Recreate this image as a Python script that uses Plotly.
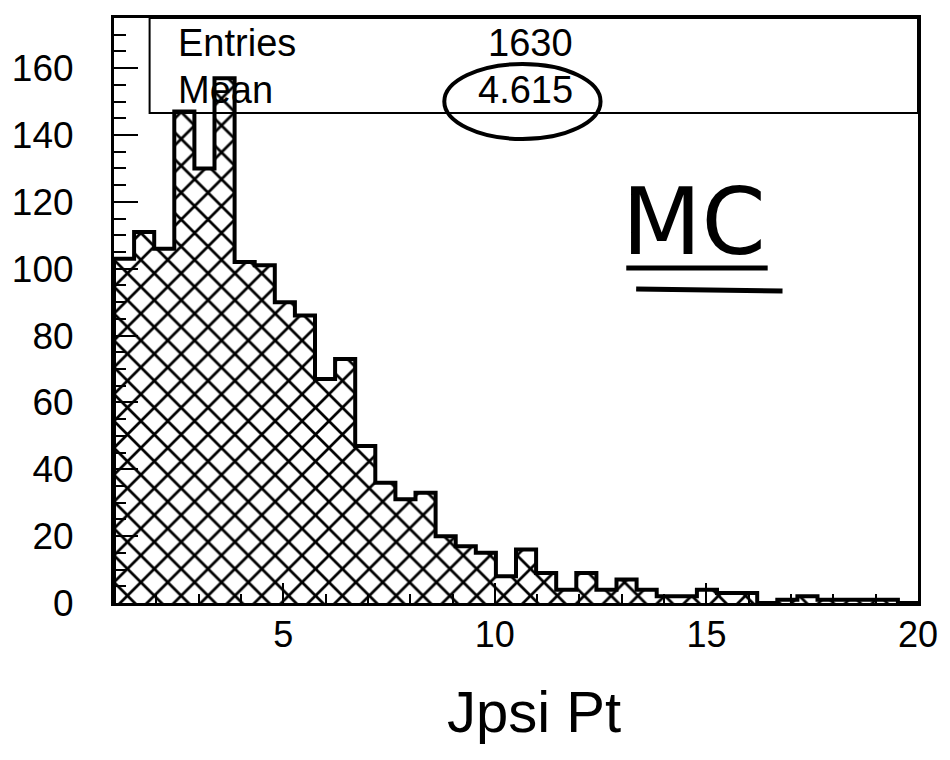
import plotly.graph_objects as go

# Jpsi Pt histogram: 40 bins over [1, 20]
bin_lo = 1.0
bin_hi = 20.0
n_bins = 40
counts = [103, 111, 106, 147, 130, 157, 102, 101, 90, 86,
          67, 73, 47, 36, 31, 33, 20, 17, 15, 8,
          16, 9, 4, 9, 4, 7, 4, 2, 2, 4,
          3, 3, 0, 1, 2, 1, 1, 1, 1, 0]
x_ticks = [5, 10, 15, 20]
y_ticks = [0, 20, 40, 60, 80, 100, 120, 140, 160]
stat_names = ["Entries", "Mean"]
stat_values = ["1630", "4.615"]

bw = (bin_hi - bin_lo) / n_bins
edges = [bin_lo + bw * k for k in range(n_bins + 1)]
centers = [e + bw / 2 for e in edges[:-1]]

# plot-area geometry in pixels, used to place overlays in paper units
W, H = 950, 760
L, R, T, B = 112, 25, 18, 157
pw, ph = W - L - R, H - T - B


def px(xp):
    return (xp - L) / pw


def py(yp):
    return (H - B - yp) / ph


fig = go.Figure()

# cross-hatched fill
fig.add_trace(go.Bar(
    x=centers, y=counts, width=bw,
    marker=dict(color="white", line=dict(width=0),
                pattern=dict(shape="x", fgcolor="black", bgcolor="white",
                             fgopacity=1, size=19, solidity=0.27)),
    showlegend=False, hoverinfo="skip",
))

# thick step outline of the histogram
fig.add_trace(go.Scatter(
    x=[edges[0]] + edges, y=[0] + counts + [counts[-1]],
    mode="lines", line=dict(color="black", width=4, shape="hv"),
    showlegend=False, hoverinfo="skip",
))

font_main = "Liberation Sans, Arial, sans-serif"

fig.update_layout(
    width=W, height=H,
    margin=dict(l=L, r=R, t=T, b=B),
    paper_bgcolor="white", plot_bgcolor="white",
    font=dict(family=font_main, color="black"),
    bargap=0,
    xaxis=dict(
        range=[bin_lo, bin_hi], tickvals=x_ticks, ticktext=[str(v) for v in x_ticks],
        ticks="inside", ticklen=20, tickwidth=2, tickcolor="black",
        minor=dict(dtick=1, ticks="inside", ticklen=9, tickwidth=2, tickcolor="black"),
        showline=True, linewidth=3, linecolor="black", mirror=True,
        showgrid=False, zeroline=False,
        tickfont=dict(size=36, family=font_main), ticklabelstandoff=-2,
    ),
    yaxis=dict(
        range=[0, 175], tickvals=y_ticks, ticktext=[str(v) for v in y_ticks],
        ticks="inside", ticklen=24, tickwidth=2, tickcolor="black",
        minor=dict(dtick=5, ticks="inside", ticklen=12, tickwidth=2, tickcolor="black"),
        showline=True, linewidth=3, linecolor="black", mirror=True,
        showgrid=False, zeroline=False,
        tickfont=dict(size=37, family=font_main), ticklabelstandoff=30,
    ),
)

# statistics box
fig.add_shape(type="rect", xref="paper", yref="paper",
              x0=px(148), x1=1, y0=py(113), y1=1,
              line=dict(color="black", width=2), fillcolor="rgba(0,0,0,0)")

for i, (name, val) in enumerate(zip(stat_names, stat_values)):
    yc = [43, 90][i]
    fig.add_annotation(xref="paper", yref="paper", x=px(175), y=py(yc),
                       text=name, showarrow=False, xanchor="left", yanchor="middle",
                       font=dict(size=38, family=font_main))
    fig.add_annotation(xref="paper", yref="paper", x=px(578), y=py(yc),
                       text=val, showarrow=False, xanchor="right", yanchor="middle",
                       font=dict(size=38, family=font_main))

# hand-drawn ring around the mean
fig.add_shape(type="circle", xref="paper", yref="paper",
              x0=px(446), x1=px(604), y0=py(139), y1=py(64),
              line=dict(color="black", width=4))

# "MC" label with double underline
fig.add_annotation(xref="paper", yref="paper", x=px(698), y=py(222),
                   text="MC", showarrow=False, xanchor="center", yanchor="middle",
                   font=dict(size=92, family="DejaVu Sans, sans-serif"))
fig.add_shape(type="line", xref="paper", yref="paper",
              x0=px(630), x1=px(773), y0=py(268), y1=py(268),
              line=dict(color="black", width=5))
fig.add_shape(type="line", xref="paper", yref="paper",
              x0=px(640), x1=px(788), y0=py(289), y1=py(291),
              line=dict(color="black", width=5))

# axis title
fig.add_annotation(xref="paper", yref="paper", x=px(537), y=py(711),
                   text="Jpsi Pt", showarrow=False, xanchor="center", yanchor="middle",
                   font=dict(size=58, family=font_main))

fig.write_html("out.html")
